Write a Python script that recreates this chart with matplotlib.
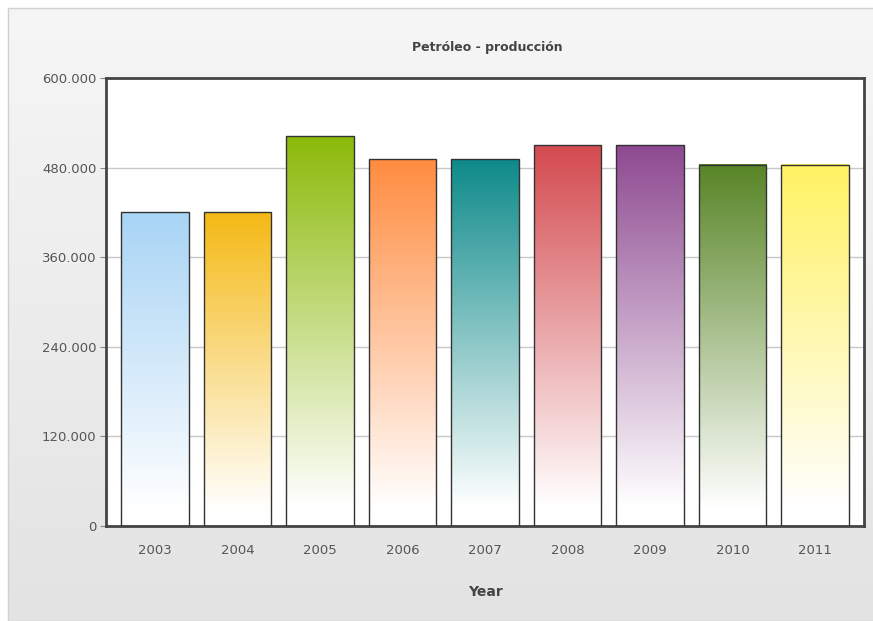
import numpy as np
import matplotlib
matplotlib.use("Agg")
import matplotlib.pyplot as plt
from matplotlib.colors import to_rgb
from matplotlib.ticker import FuncFormatter, MultipleLocator
from matplotlib.patches import Rectangle

years = ["2003", "2004", "2005", "2006", "2007", "2008", "2009", "2010", "2011"]
production = [420000, 420000, 522000, 491000, 491000, 510000, 510000, 484000, 484000]
colors = ["#a8d4f5", "#f5b915", "#8cba0a", "#ff8c40", "#0e8a8a",
          "#d44a4f", "#8e4a91", "#588526", "#fff263"]

title = "Petróleo - producción"
xlabel = "Year"

fig = plt.figure(figsize=(8.73, 6.21), dpi=100)
fig.patch.set_facecolor("white")

# background panel with vertical gradient
bg = fig.add_axes([0, 0, 1, 1], zorder=-10)
bg.set_axis_off()
grad = np.linspace(0, 1, 256).reshape(-1, 1)
top_c = np.array(to_rgb("#f6f6f6"))
bot_c = np.array(to_rgb("#e3e3e3"))
img = top_c[None, None, :] * (1 - grad[:, :, None]) + bot_c[None, None, :] * grad[:, :, None]
bg.imshow(img, extent=[8/873, 1, 0, 1 - 8/621], aspect="auto", origin="upper")
bg.add_patch(Rectangle((8/873, 0), 1, 1 - 8/621, fill=False, edgecolor="#d0d0d0", lw=1))
bg.set_xlim(0, 1)
bg.set_ylim(0, 1)

ax = fig.add_axes([106/873, 1 - 526/621, 758/873, 448/621])
ax.set_facecolor("white")

x = np.arange(len(years))
bars = ax.bar(x, production, width=0.818, facecolor="none",
              edgecolor="#333333", linewidth=1.0, zorder=3)

for b, c in zip(bars, colors):
    rgb = np.array(to_rgb(c))
    t = np.linspace(0, 1, 256).reshape(-1, 1, 1)  # 0 top -> 1 bottom
    w = np.clip(t / 0.95, 0, 1)
    g = rgb[None, None, :] * (1 - w) + np.array([1, 1, 1])[None, None, :] * w
    ax.imshow(g, extent=[b.get_x(), b.get_x() + b.get_width(), 0, b.get_height()],
              aspect="auto", origin="upper", zorder=2)

ax.set_xlim(-0.595, len(years) - 1 + 0.595)
ax.set_ylim(0, 600000)
ax.yaxis.set_major_locator(MultipleLocator(120000))
ax.yaxis.set_major_formatter(FuncFormatter(lambda v, p: "0" if v == 0 else f"{int(v):,}".replace(",", ".")))
ax.grid(axis="y", color="#c8c8c8", linewidth=1.0, zorder=1)
ax.set_axisbelow(True)

ax.set_xticks(x)
ax.set_xticklabels(years)
ax.tick_params(axis="x", length=0, pad=13, labelsize=9.5, labelcolor="#555555")
ax.tick_params(axis="y", length=4, color="#888888", pad=3, labelsize=9.5, labelcolor="#555555")

for s in ax.spines.values():
    s.set_color("#444444")
    s.set_linewidth(2)

ax.set_xlabel(xlabel, fontsize=10, fontweight="bold", color="#444444", labelpad=20)
fig.text(487/873, 1 - 48/621, title, ha="center", va="center",
         fontsize=9, fontweight="bold", color="#444444")

fig.savefig("out.png", dpi=100)
